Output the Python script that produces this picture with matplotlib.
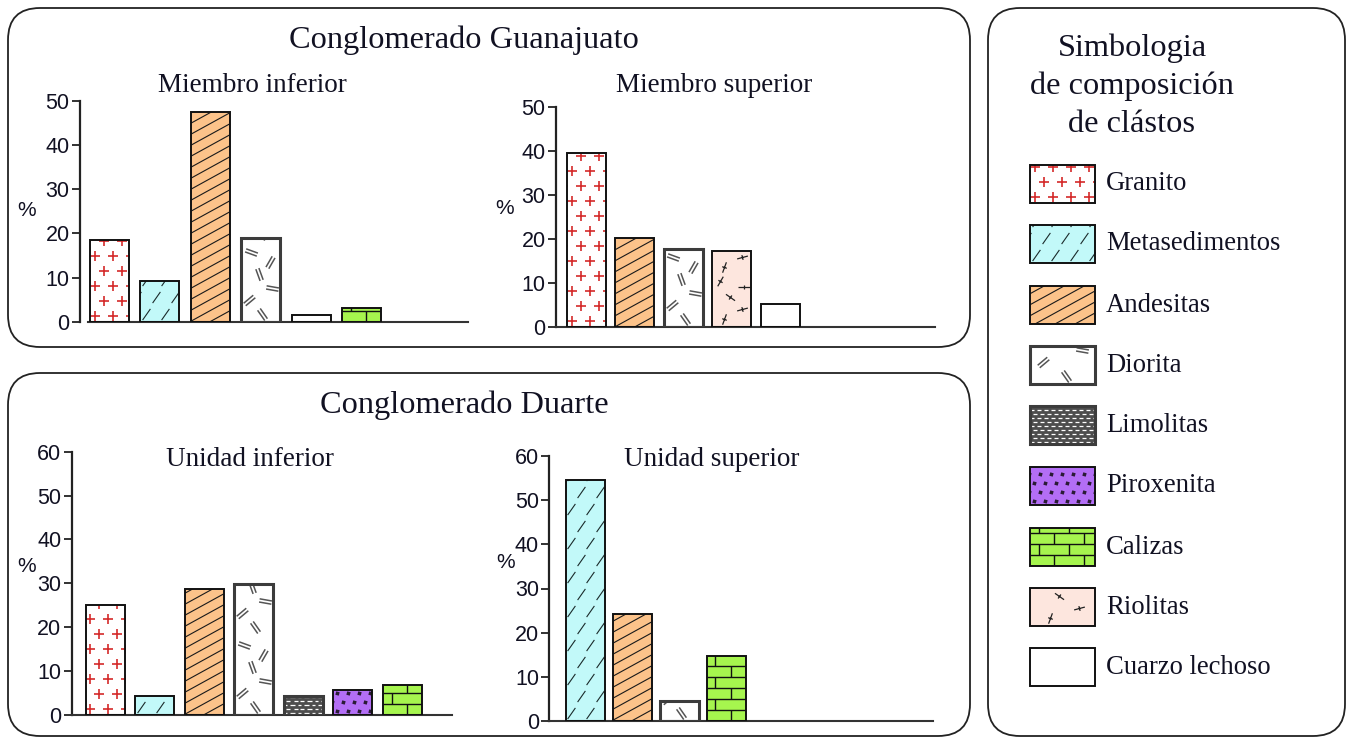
import numpy as np
import matplotlib
matplotlib.use("Agg")
import matplotlib.pyplot as plt
from matplotlib.patches import FancyBboxPatch, Rectangle
from matplotlib.path import Path
from matplotlib.markers import MarkerStyle
from matplotlib.transforms import Affine2D
from matplotlib.collections import LineCollection

W, H = 1350, 738

# --------------------------
# datos (% de clastos)
# --------------------------
gto_inf_tipos = ["Granito", "Metasedimentos", "Andesitas", "Diorita", "Cuarzo lechoso", "Calizas"]
gto_inf_pct = [18.5, 9.3, 47.5, 18.9, 1.6, 3.2]

gto_sup_tipos = ["Granito", "Andesitas", "Diorita", "Riolitas", "Cuarzo lechoso"]
gto_sup_pct = [39.6, 20.2, 17.7, 17.4, 5.3]

dua_inf_tipos = ["Granito", "Metasedimentos", "Andesitas", "Diorita", "Limolitas", "Piroxenita", "Calizas"]
dua_inf_pct = [25.1, 4.3, 28.7, 29.9, 4.3, 5.7, 6.8]

dua_sup_tipos = ["Metasedimentos", "Andesitas", "Diorita", "Calizas"]
dua_sup_pct = [54.6, 24.3, 4.6, 14.7]

leyenda_tipos = ["Granito", "Metasedimentos", "Andesitas", "Diorita", "Limolitas",
                 "Piroxenita", "Calizas", "Riolitas", "Cuarzo lechoso"]

FONDO = {
    "Granito": "white",
    "Metasedimentos": "#c2f9f9",
    "Andesitas": "#fcc38a",
    "Diorita": "white",
    "Limolitas": "#4d4d4d",
    "Piroxenita": "#b36ef5",
    "Calizas": "#a6f54e",
    "Riolitas": "#fde6de",
    "Cuarzo lechoso": "white",
}

SANS = "Liberation Sans"
SERIF = "Liberation Serif"
TXT = "#111122"

fig = plt.figure(figsize=(13.5, 7.38), dpi=100)

# eje base en pixeles (cajas, titulos, simbologia)
base = fig.add_axes([0, 0, 1, 1])
base.set_xlim(0, W)
base.set_ylim(H, 0)
base.axis("off")


def to_data(ax, pts):
    return ax.transData.inverted().transform(np.asarray(pts, dtype=float))


def rejilla(bb, dx, dy, ox=0, oy=0):
    pts = []
    j = 0
    y = bb.y0 + oy
    while y < bb.y1 + dy:
        x = bb.x0 + ox + (dx / 2 if j % 2 else 0) - dx
        while x < bb.x1 + dx:
            pts.append((x, y))
            x += dx
        y += dy
        j += 1
    return np.array(pts)


def poner_marcas(ax, patch, pts, marker, **kw):
    d = to_data(ax, pts)
    ln, = ax.plot(d[:, 0], d[:, 1], ls="none", marker=marker, zorder=2.5, **kw)
    ln.set_clip_path(patch)


def poner_lineas(ax, patch, segs, **kw):
    segs_d = [to_data(ax, s) for s in segs]
    lc = LineCollection(segs_d, zorder=2.5, **kw)
    ax.add_collection(lc, autolim=False)
    lc.set_clip_path(patch)


RAYA = Path([(-0.35, -0.5), (0.35, 0.5)], [Path.MOVETO, Path.LINETO])
DOBLE = Path([(-0.13, -0.5), (-0.13, 0.5), (0.13, -0.5), (0.13, 0.5)],
             [Path.MOVETO, Path.LINETO, Path.MOVETO, Path.LINETO])
CRUZ_LARGA = Path([(-0.5, 0), (0.5, 0), (0, -0.22), (0, 0.22)],
                  [Path.MOVETO, Path.LINETO, Path.MOVETO, Path.LINETO])


def rotada(path, ang):
    return MarkerStyle(path, transform=Affine2D().rotate_deg(ang))


def textura(ax, patch, tipo):
    bb = patch.get_window_extent()
    w = bb.x1 - bb.x0
    if tipo == "Granito":
        pts = rejilla(bb, 18, 15, ox=5, oy=6)
        poner_marcas(ax, patch, pts, "+", ms=6.5, mew=1.2, color="#d42a2a")
    elif tipo == "Metasedimentos":
        pts = rejilla(bb, 19, 17, ox=6, oy=8)
        poner_marcas(ax, patch, pts, RAYA, ms=8, mew=0.8, mfc="none", mec="#1a2a2a")
    elif tipo == "Andesitas":
        segs = []
        c = bb.y0 - 0.55 * w - 11
        while c < bb.y1 + 11:
            segs.append([(bb.x0, c), (bb.x1, c + 0.55 * w)])
            c += 11
        poner_lineas(ax, patch, segs, colors="#1a1a1a", linewidths=0.8)
    elif tipo == "Diorita":
        tile = [(0.55, 8, 35), (0.2, 22, -50), (0.8, 34, 80), (0.45, 48, 20),
                (0.75, 60, -30), (0.25, 70, 70)]
        y = bb.y0
        while y < bb.y1:
            for fx, dy, ang in tile:
                poner_marcas(ax, patch, [(bb.x0 + fx * w, y + dy)], rotada(DOBLE, ang),
                             ms=9, mew=1.1, mfc="none", mec="#555555")
            y += 80
    elif tipo == "Limolitas":
        segs = []
        k = 0
        y = bb.y0 + 2.5
        while y < bb.y1:
            x = bb.x0 + (3 if k % 2 else 0)
            while x < bb.x1:
                segs.append([(x, y), (x + 4, y)])
                x += 7
            y += 4
            k += 1
        poner_lineas(ax, patch, segs, colors="white", linewidths=0.9)
    elif tipo == "Piroxenita":
        pts = rejilla(bb, 11, 9, ox=4, oy=4)
        poner_marcas(ax, patch, pts, (4, 0, 30), ms=3.6, mew=0, color="#2a1b35")
    elif tipo == "Calizas":
        segs = []
        k = 0
        y = bb.y0
        while y < bb.y1:
            segs.append([(bb.x0, y), (bb.x1, y)])
            x = bb.x0 + (9 if k % 2 else 24)
            while x < bb.x1:
                segs.append([(x, y), (x, y + 11)])
                x += 30
            y += 11
            k += 1
        poner_lineas(ax, patch, segs, colors="#111111", linewidths=1.0)
    elif tipo == "Riolitas":
        tile = [(0.3, 8, 70), (0.75, 18, 15), (0.45, 30, -35), (0.8, 40, 0), (0.2, 46, 60)]
        y = bb.y0
        while y < bb.y1:
            for fx, dy, ang in tile:
                poner_marcas(ax, patch, [(bb.x0 + fx * w, y + dy)], rotada(CRUZ_LARGA, ang),
                             ms=8, mew=0.9, mfc="none", mec="#222222")
            y += 52


def borde(tipo):
    if tipo in ("Diorita", "Limolitas"):
        return "#3c3c3c", 2.2
    return "#111111", 1.4


def grafica(geo, tipos, vals, ymax):
    left, right, y0, ytop, sep, c0, x_ini = geo
    ax = fig.add_axes([left / W, (H - y0) / H, (right - left) / W, (y0 - ytop) / H])
    ax.patch.set_visible(False)
    xmin = (left - c0) / sep
    xmax = (right - c0) / sep
    ax.set_xlim(xmin, xmax)
    ax.set_ylim(0, ymax)
    ancho = 39 / sep
    x = np.arange(len(vals))
    bars = ax.bar(x, vals, width=ancho, color=[FONDO[t] for t in tipos],
                  linewidth=0, zorder=2)
    for b, t in zip(bars, tipos):
        textura(ax, b, t)
    for xi, v, t in zip(x, vals, tipos):
        ec, lw = borde(t)
        ax.bar(xi, v, width=ancho, fill=False, edgecolor=ec, linewidth=lw, zorder=3)
    for s in ("top", "right"):
        ax.spines[s].set_visible(False)
    ax.spines["left"].set_bounds(0, ymax)
    ax.spines["left"].set_linewidth(1.6)
    ax.spines["left"].set_color("#222222")
    ax.spines["bottom"].set_bounds((x_ini - c0) / sep, xmax)
    ax.spines["bottom"].set_linewidth(1.5)
    ax.spines["bottom"].set_color("#333333")
    ax.set_xticks([])
    ax.set_yticks(np.arange(0, ymax + 1, 10))
    ax.tick_params(axis="y", direction="out", length=6, width=1.3, pad=1.5,
                   labelsize=15.5, labelcolor=TXT, color="#222222")
    for lab in ax.get_yticklabels():
        lab.set_fontfamily(SANS)
    return ax


# cajas redondeadas
for (x, y, w, h) in [(8, 8, 962, 339), (8, 373, 962, 363), (988, 8, 357, 728)]:
    base.add_patch(FancyBboxPatch((x, y), w, h, boxstyle="round,pad=0,rounding_size=32",
                                  fill=False, edgecolor="#222222", linewidth=1.3))

# geometria: (izq, der, y0, ytope, separacion, centro0, inicio linea base) en px
grafica((80, 468, 322, 100.7, 50.5, 109, 88), gto_inf_tipos, gto_inf_pct, 50)
grafica((556, 935, 327.3, 106.7, 48.6, 586, 556), gto_sup_tipos, gto_sup_pct, 50)
grafica((71.7, 452, 715, 451.7, 49.5, 105, 71.7), dua_inf_tipos, dua_inf_pct, 60)
grafica((549.3, 933, 721, 456, 47, 585, 549.3), dua_sup_tipos, dua_sup_pct, 60)

# titulos
base.text(464, 40, "Conglomerado Guanajuato", ha="center", va="center",
          fontsize=23.3, family=SERIF, color=TXT)
base.text(464, 405, "Conglomerado Duarte", ha="center", va="center",
          fontsize=23.3, family=SERIF, color=TXT)
for (x, y, s) in [(252, 85, "Miembro inferior"), (714, 85, "Miembro superior"),
                  (250, 460, "Unidad inferior"), (712, 460, "Unidad superior")]:
    base.text(x, y, s, ha="center", va="center", fontsize=19.5, family=SERIF, color=TXT)
for (x, y) in [(27, 211), (505, 208), (27, 567), (506, 562)]:
    base.text(x, y, "%", ha="center", va="center", fontsize=15, family=SANS, color=TXT)

# simbologia
for y, linea in zip([48, 86, 124], ["Simbologia", "de composición", "de clástos"]):
    base.text(1132, y, linea, ha="center", va="center",
              fontsize=23.3, family=SERIF, color=TXT)
tops = [165, 225, 286, 346, 406, 467, 528, 588, 648]
for t, tipo in zip(tops, leyenda_tipos):
    r = Rectangle((1030, t), 65, 38, facecolor=FONDO[tipo], linewidth=0, zorder=2)
    base.add_patch(r)
    textura(base, r, tipo)
    ec, lw = borde(tipo)
    base.add_patch(Rectangle((1030, t), 65, 38, fill=False, edgecolor=ec, linewidth=lw, zorder=3))
    base.text(1106, t + 19, tipo, ha="left", va="center", fontsize=19.2,
              family=SERIF, color=TXT)

fig.savefig("out.png", dpi=100)
